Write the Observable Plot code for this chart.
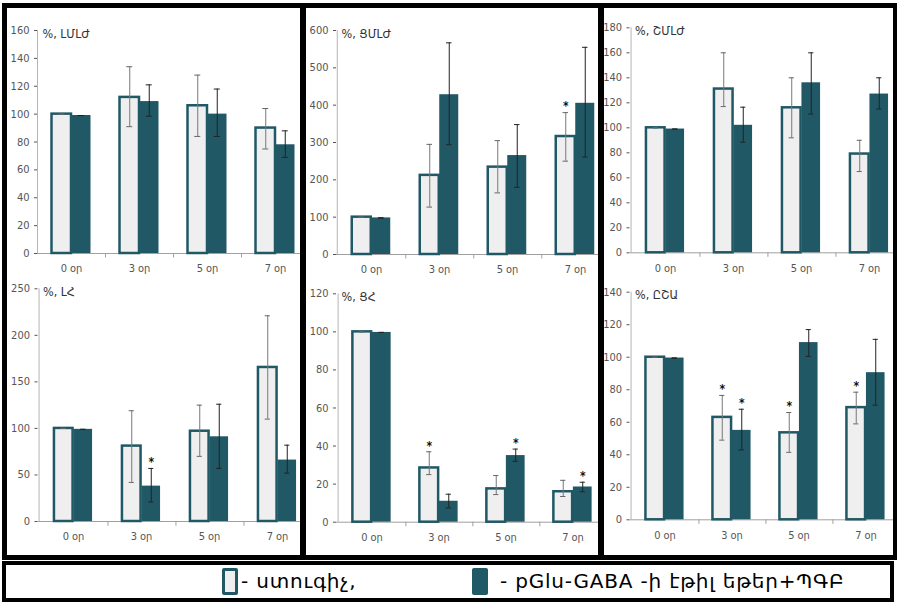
<!DOCTYPE html>
<html>
<head>
<meta charset="utf-8">
<script src="https://cdn.jsdelivr.net/npm/d3@7"></script>
<script src="https://cdn.jsdelivr.net/npm/@observablehq/plot@0.6"></script>
<style>
  html, body { margin: 0; padding: 0; background: white; }
  #root { position: relative; width: 897px; height: 602px; overflow: hidden; background: white; }
  .col { position: absolute; top: 0; height: 558px; overflow: hidden; }
  .col svg { position: absolute; left: 0; }
  .blk { position: absolute; background: #000; z-index: 5; }
  #legend { position: absolute; left: 2px; top: 561px; width: 892px; height: 41px; border: 4px solid #000; box-sizing: border-box; z-index: 5; background: white;
    font-family: "DejaVu Sans", sans-serif; font-size: 20px; letter-spacing: 0.8px; color: #000; }
  .sw { position: absolute; box-sizing: border-box; border-radius: 2px; }
  .lt { position: absolute; white-space: nowrap; line-height: 1; }
</style>
</head>
<body>
<div id="root">
  <div class="col" id="col1" style="left:0px;width:300px"></div>
  <div class="col" id="col2" style="left:300px;width:298px"></div>
  <div class="col" id="col3" style="left:598px;width:299px"></div>
  <div class="blk" style="left:2px;top:3px;width:895px;height:5px"></div>
  <div class="blk" style="left:2px;top:3px;width:5px;height:557px"></div>
  <div class="blk" style="left:300px;top:3px;width:6px;height:557px"></div>
  <div class="blk" style="left:598px;top:3px;width:6px;height:557px"></div>
  <div class="blk" style="left:893px;top:3px;width:4px;height:557px"></div>
  <div class="blk" style="left:2px;top:555px;width:895px;height:5px"></div>
  <div id="legend"></div>
</div>
<script>
const days = ["0 օր", "3 օր", "5 օր", "7 օր"];
const seriesNames = ["ստուգիչ,", "pGlu-GABA -ի էթիլ եթեր+ՊԳԲ"];

// Panel 1: %, ԼՄԼԺ
const p1Title = "%, ԼՄԼԺ";
const p1Ticks = [0, 20, 40, 60, 80, 100, 120, 140, 160];
const p1Control = [100, 112, 106, 90];
const p1ControlLo = [100, 91, 84, 75];
const p1ControlHi = [100, 134, 128, 104];
const p1Treat = [99, 109, 100, 78];
const p1TreatLo = [99, 98.5, 84, 69];
const p1TreatHi = [99, 121, 118, 88];
const p1ControlStars = [];
const p1TreatStars = [];

// Panel 2: %, ՑՄԼԺ
const p2Title = "%, ՑՄԼԺ";
const p2Ticks = [0, 100, 200, 300, 400, 500, 600];
const p2Control = [100, 212, 234, 316];
const p2ControlLo = [100, 127, 165, 250];
const p2ControlHi = [100, 295, 305, 380];
const p2Treat = [98, 428, 265, 405];
const p2TreatLo = [98, 294, 180, 261];
const p2TreatHi = [98, 567, 348, 555];
const p2ControlStars = ["7 օր"];
const p2TreatStars = [];

// Panel 3: %, ՇՄԼԺ
const p3Title = "%, ՇՄԼԺ";
const p3Ticks = [0, 20, 40, 60, 80, 100, 120, 140, 160, 180];
const p3Control = [100, 131, 116, 79];
const p3ControlLo = [100, 117, 92, 65];
const p3ControlHi = [100, 160, 140, 90];
const p3Treat = [99, 102, 136, 127];
const p3TreatLo = [99, 88.5, 111, 115];
const p3TreatHi = [99, 116.5, 160, 140];
const p3ControlStars = [];
const p3TreatStars = [];

// Panel 4: %, ԼՀ
const p4Title = "%, ԼՀ";
const p4Ticks = [0, 50, 100, 150, 200, 250];
const p4Control = [100, 81, 97, 165.5];
const p4ControlLo = [100, 42, 70, 110];
const p4ControlHi = [100, 119, 125, 221];
const p4Treat = [99, 38, 91, 66];
const p4TreatLo = [99, 21, 57, 52];
const p4TreatHi = [99, 57, 126, 82];
const p4ControlStars = [];
const p4TreatStars = ["3 օր"];

// Panel 5: %, ՑՀ
const p5Title = "%, ՑՀ";
const p5Ticks = [0, 20, 40, 60, 80, 100, 120];
const p5Control = [100, 28.5, 17.5, 16];
const p5ControlLo = [100, 25, 14.5, 13.5];
const p5ControlHi = [100, 37, 24.5, 22];
const p5Treat = [99.7, 11, 35, 18.5];
const p5TreatLo = [99.7, 7.5, 32, 16];
const p5TreatHi = [99.7, 14.7, 38.4, 21];
const p5ControlStars = ["3 օր"];
const p5TreatStars = ["5 օր", "7 օր"];

// Panel 6: %, ԸՇԱ
const p6Title = "%, ԸՇԱ";
const p6Ticks = [0, 20, 40, 60, 80, 100, 120, 140];
const p6Control = [100, 63, 53.5, 69];
const p6ControlLo = [100, 49, 41.5, 59];
const p6ControlHi = [100, 76.5, 66, 78.5];
const p6Treat = [99.5, 55, 109, 90.5];
const p6TreatLo = [99.5, 43, 100.5, 70.5];
const p6TreatHi = [99.5, 68, 117, 111];
const p6ControlStars = ["3 օր", "5 օր", "7 օր"];
const p6TreatStars = ["3 օր"];

const TEAL = "#215865";
const LIGHT = "#efefef";
const FONT = "'Liberation Sans Narrow', 'DejaVu Sans Condensed', sans-serif";

function makePanel(cfg) {
  const {col, colLeft, axisX, rangeEnd, rowTop, yTopPx, y0Px} = cfg;
  const bw = (rangeEnd - axisX) / 4;
  const barW = 19.5;
  const capW = 6;
  const yMax = cfg.ticks[cfg.ticks.length - 1];
  const rows = days.map((d, i) => ({
    day: d, c: cfg.c[i], cLo: cfg.cLo[i], cHi: cfg.cHi[i],
    t: cfg.t[i], tLo: cfg.tLo[i], tHi: cfg.tHi[i]
  }));
  const marginTop = yTopPx - rowTop;
  const marginBottom = 26;
  const height = (y0Px - rowTop) + marginBottom;
  const width = rangeEnd - colLeft;
  const capInset = (bw - capW) / 2;
  const svg = Plot.plot({
    width, height,
    marginLeft: axisX - colLeft, marginRight: 0, marginTop, marginBottom,
    style: {background: "transparent", overflow: "visible", maxWidth: "none", fontFamily: FONT, fontSize: "11px", color: "#555"},
    x: {domain: days, type: "band", padding: 0, label: null, tickSize: 0, tickPadding: 11},
    y: {domain: [0, yMax], ticks: cfg.ticks, label: null, tickSize: 3, tickPadding: 5},
    marks: [
      Plot.ruleX([days[0]], {x: d => d, y1: 0, y2: yMax, dx: -bw / 2, stroke: "#b5b5b5"}),
      Plot.ruleY([0], {stroke: "#a0a0a0"}),
      Plot.ruleX(days, {x: d => d, y1: 0, y2: -yMax * 0.02, dx: bw / 2, stroke: "#a0a0a0"}),
      Plot.barY(rows, {x: "day", y: "c", fill: LIGHT, stroke: TEAL, strokeWidth: 2.5, insetLeft: bw / 2 - barW, insetRight: bw / 2}),
      Plot.barY(rows, {x: "day", y: "t", fill: TEAL, insetLeft: bw / 2, insetRight: bw / 2 - barW}),
      Plot.ruleX(rows, {x: "day", y1: "cLo", y2: "cHi", dx: -barW / 2, stroke: "#777", strokeWidth: 1}),
      Plot.tickY(rows, {x: "day", y: "cHi", dx: -barW / 2, insetLeft: capInset, insetRight: capInset, stroke: "#666", strokeWidth: 1}),
      Plot.tickY(rows, {x: "day", y: "cLo", dx: -barW / 2, insetLeft: capInset, insetRight: capInset, stroke: "#666", strokeWidth: 1}),
      Plot.ruleX(rows, {x: "day", y1: "tLo", y2: "tHi", dx: barW / 2, stroke: "#222", strokeWidth: 1}),
      Plot.tickY(rows, {x: "day", y: "tHi", dx: barW / 2, insetLeft: capInset, insetRight: capInset, stroke: "#222", strokeWidth: 1}),
      Plot.tickY(rows, {x: "day", y: "tLo", dx: barW / 2, insetLeft: capInset, insetRight: capInset, stroke: "#222", strokeWidth: 1}),
      Plot.text(rows.filter(r => cfg.cStars.includes(r.day)), {x: "day", y: "cHi", dx: -barW / 2, dy: -6, text: () => "*", fontSize: 12, fill: "#111", fontWeight: "bold"}),
      Plot.text(rows.filter(r => cfg.tStars.includes(r.day)), {x: "day", y: "tHi", dx: barW / 2, dy: -6, text: () => "*", fontSize: 12, fill: "#111", fontWeight: "bold"}),
      Plot.text([cfg.title], {frameAnchor: "top-left", text: d => d, dx: 5, dy: 3, lineAnchor: "middle", textAnchor: "start", fontSize: 12.5, fill: "#333"})
    ]
  });
  svg.style.top = rowTop + "px";
  svg.style.maxWidth = "none";
  document.getElementById(col).appendChild(svg);
}

makePanel({col: "col1", colLeft: 0, axisX: 37, rangeEnd: 309, rowTop: 5, yTopPx: 30, y0Px: 253, title: p1Title, ticks: p1Ticks,
  c: p1Control, cLo: p1ControlLo, cHi: p1ControlHi, t: p1Treat, tLo: p1TreatLo, tHi: p1TreatHi, cStars: p1ControlStars, tStars: p1TreatStars});
makePanel({col: "col2", colLeft: 300, axisX: 336, rangeEnd: 610, rowTop: 5, yTopPx: 30, y0Px: 254, title: p2Title, ticks: p2Ticks,
  c: p2Control, cLo: p2ControlLo, cHi: p2ControlHi, t: p2Treat, tLo: p2TreatLo, tHi: p2TreatHi, cStars: p2ControlStars, tStars: p2TreatStars});
makePanel({col: "col3", colLeft: 598, axisX: 629.5, rangeEnd: 905, rowTop: 5, yTopPx: 27.3, y0Px: 252.3, title: p3Title, ticks: p3Ticks,
  c: p3Control, cLo: p3ControlLo, cHi: p3ControlHi, t: p3Treat, tLo: p3TreatLo, tHi: p3TreatHi, cStars: p3ControlStars, tStars: p3TreatStars});
makePanel({col: "col1", colLeft: 0, axisX: 37.5, rangeEnd: 313, rowTop: 278, yTopPx: 288.3, y0Px: 521, title: p4Title, ticks: p4Ticks,
  c: p4Control, cLo: p4ControlLo, cHi: p4ControlHi, t: p4Treat, tLo: p4TreatLo, tHi: p4TreatHi, cStars: p4ControlStars, tStars: p4TreatStars});
makePanel({col: "col2", colLeft: 300, axisX: 336, rangeEnd: 607, rowTop: 278, yTopPx: 293.3, y0Px: 521.7, title: p5Title, ticks: p5Ticks,
  c: p5Control, cLo: p5ControlLo, cHi: p5ControlHi, t: p5Treat, tLo: p5TreatLo, tHi: p5TreatHi, cStars: p5ControlStars, tStars: p5TreatStars});
makePanel({col: "col3", colLeft: 598, axisX: 629.5, rangeEnd: 901, rowTop: 278, yTopPx: 291.7, y0Px: 519.3, title: p6Title, ticks: p6Ticks,
  c: p6Control, cLo: p6ControlLo, cHi: p6ControlHi, t: p6Treat, tLo: p6TreatLo, tHi: p6TreatHi, cStars: p6ControlStars, tStars: p6TreatStars});

// Legend
const legend = document.getElementById("legend");
legend.innerHTML =
  `<div class="sw" style="left:216px;top:3px;width:16px;height:27px;background:${LIGHT};border:3px solid ${TEAL}"></div>` +
  `<div class="lt" style="left:235px;top:6px">- ${seriesNames[0]}</div>` +
  `<div class="sw" style="left:466px;top:3px;width:16px;height:27px;background:${TEAL}"></div>` +
  `<div class="lt" style="left:494px;top:6px">- ${seriesNames[1]}</div>`;
</script>
</body>
</html>
